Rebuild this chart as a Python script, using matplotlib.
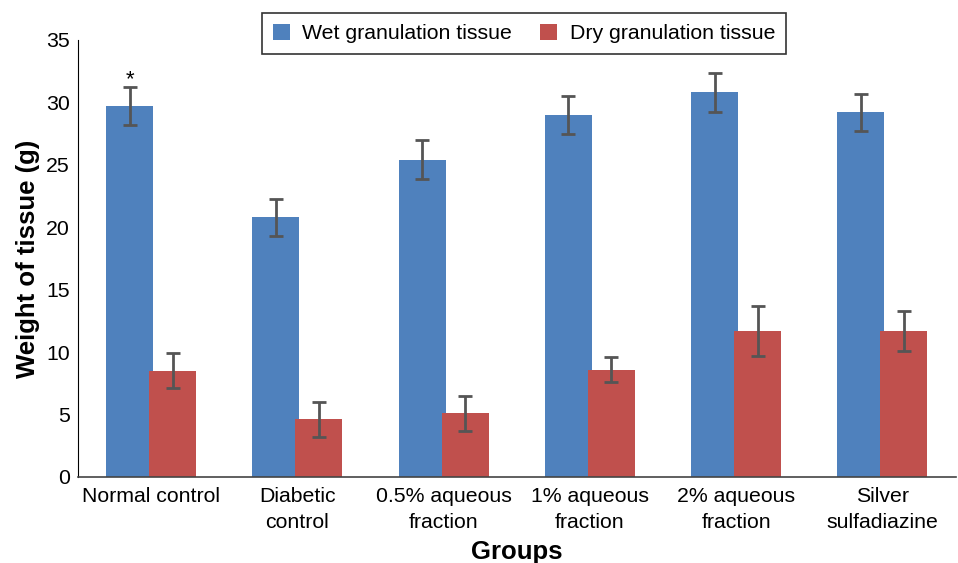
import matplotlib.pyplot as plt
import numpy as np

plt.rcParams['font.family'] = ['Liberation Sans', 'DejaVu Sans']

# Data
groups = ["Normal control", "Diabetic\ncontrol", "0.5% aqueous\nfraction",
          "1% aqueous\nfraction", "2% aqueous\nfraction", "Silver\nsulfadiazine"]
wet = [29.7, 20.8, 25.4, 29.0, 30.8, 29.2]
wet_err = [1.5, 1.5, 1.55, 1.55, 1.55, 1.5]
dry = [8.5, 4.6, 5.1, 8.6, 11.7, 11.7]
dry_err = [1.4, 1.4, 1.4, 1.0, 2.0, 1.6]

fig = plt.figure(figsize=(9.58, 5.63), dpi=100)
ax = fig.add_axes([0.0814, 0.153, 0.916, 0.776])

x = np.arange(len(groups))
width = 0.32
offset = 0.147

err_style = dict(ecolor='#555555', elinewidth=2, capsize=5, capthick=2)
ax.bar(x - offset, wet, width, yerr=wet_err, color='#4F81BD',
       label='Wet granulation tissue', error_kw=err_style, zorder=2)
ax.bar(x + offset, dry, width, yerr=dry_err, color='#C0504D',
       label='Dry granulation tissue', error_kw=err_style, zorder=2)

# significance marker above normal control
ax.text(x[0] - offset, wet[0] + wet_err[0] - 0.2, '*', ha='center', va='bottom', fontsize=16)

ax.set_xlim(-0.5, len(groups) - 0.5)
ax.set_ylim(0, 35)
ax.set_yticks(range(0, 36, 5))
ax.set_xticks(x)
ax.set_xticklabels(groups, fontsize=15.3, linespacing=1.5)
ax.tick_params(axis='y', labelsize=15.3, length=0, pad=6)
ax.tick_params(axis='x', length=0, pad=7)

ax.spines['top'].set_visible(False)
ax.spines['right'].set_visible(False)
ax.spines['left'].set_color('black')
ax.spines['bottom'].set_color('#444444')
ax.spines['bottom'].set_linewidth(1.2)

ax.set_ylabel('Weight of tissue (g)', fontsize=18.5, fontweight='bold', labelpad=4)
ax.set_xlabel('Groups', fontsize=18.5, fontweight='bold', labelpad=6)

leg = ax.legend(loc='upper center', bbox_to_anchor=(0.508, 1.086), ncol=2, fontsize=15.3,
                frameon=True, fancybox=False, edgecolor='black', handlelength=0.8,
                handleheight=0.8, handletextpad=0.6, columnspacing=1.3, borderpad=0.5)
leg.get_frame().set_linewidth(1.2)

fig.savefig('out.png', dpi=100)
